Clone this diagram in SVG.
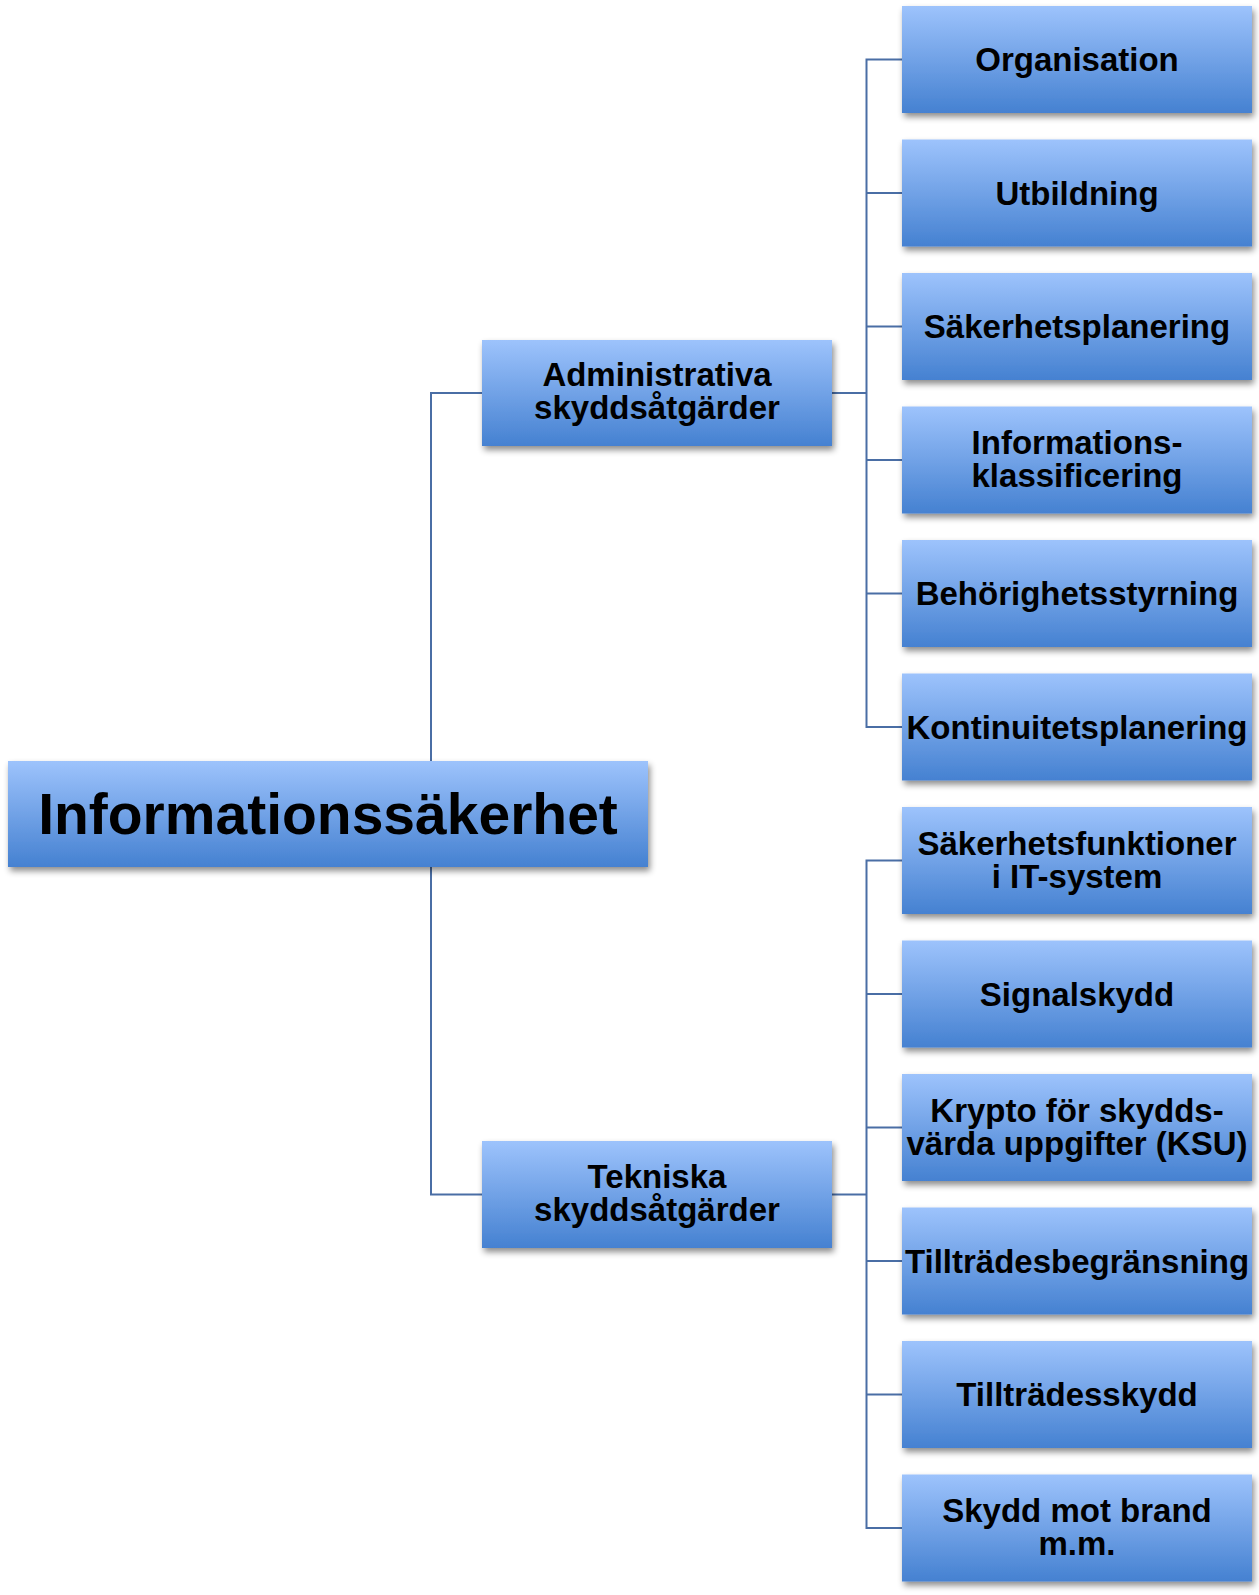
<svg xmlns="http://www.w3.org/2000/svg" width="1259" height="1595" viewBox="0 0 1259 1595">
<defs>
<linearGradient id="g" x1="0" y1="0" x2="0" y2="1">
<stop offset="0" stop-color="#9dc3fc"/>
<stop offset="1" stop-color="#4581d1"/>
</linearGradient>
<filter id="sh" x="-10%" y="-20%" width="120%" height="150%">
<feDropShadow dx="2" dy="4" stdDeviation="3" flood-color="#000" flood-opacity="0.45"/>
</filter>
</defs>
<style>
.box{fill:url(#g);filter:url(#sh)}
.t{font-family:"Liberation Sans",Arial,sans-serif;font-weight:bold;font-size:33px;text-anchor:middle;fill:#000}
.big{font-size:57px}
.c{fill:none;stroke:#4a6ea5;stroke-width:2}
</style>
<rect width="1259" height="1595" fill="#fff"/>
<g id="connectors">
<path class="c" d="M431,761 V393 H482"/>
<path class="c" d="M431,867 V1194.5 H482"/>
<path class="c" d="M832,393 H866.5"/>
<path class="c" d="M902,59.5 H866.5 V727 H902"/>
<path class="c" d="M866.5,193 H902 M866.5,326.5 H902 M866.5,460 H902 M866.5,593.5 H902"/>
<path class="c" d="M832,1194.5 H866.5"/>
<path class="c" d="M902,860.5 H866.5 V1528 H902"/>
<path class="c" d="M866.5,994 H902 M866.5,1127.5 H902 M866.5,1261 H902 M866.5,1394.5 H902"/>
</g>
<g id="root"><rect class="box" x="8" y="761" width="640" height="106"/><text class="t big" x="328" y="834">Informationssäkerhet</text></g>
<g id="admin"><rect class="box" x="482" y="340" width="350" height="106"/><text class="t" x="657" y="386">Administrativa</text><text class="t" x="657" y="419">skyddsåtgärder</text></g>
<g id="tekn"><rect class="box" x="482" y="1141" width="350" height="107"/><text class="t" x="657" y="1188">Tekniska</text><text class="t" x="657" y="1221">skyddsåtgärder</text></g>
<g id="n1"><rect class="box" x="902" y="6" width="350" height="107"/><text class="t" x="1077" y="71">Organisation</text></g>
<g id="n2"><rect class="box" x="902" y="139.5" width="350" height="107"/><text class="t" x="1077" y="204.5">Utbildning</text></g>
<g id="n3"><rect class="box" x="902" y="273" width="350" height="107"/><text class="t" x="1077" y="338">Säkerhetsplanering</text></g>
<g id="n4"><rect class="box" x="902" y="406.5" width="350" height="107"/><text class="t" x="1077" y="454">Informations-</text><text class="t" x="1077" y="487">klassificering</text></g>
<g id="n5"><rect class="box" x="902" y="540" width="350" height="107"/><text class="t" x="1077" y="605">Behörighetsstyrning</text></g>
<g id="n6"><rect class="box" x="902" y="673.5" width="350" height="107"/><text class="t" x="1077" y="738.5">Kontinuitetsplanering</text></g>
<g id="n7"><rect class="box" x="902" y="807" width="350" height="107"/><text class="t" x="1077" y="854.5">Säkerhetsfunktioner</text><text class="t" x="1077" y="887.5">i IT-system</text></g>
<g id="n8"><rect class="box" x="902" y="940.5" width="350" height="107"/><text class="t" x="1077" y="1005.5">Signalskydd</text></g>
<g id="n9"><rect class="box" x="902" y="1074" width="350" height="107"/><text class="t" x="1077" y="1121.5">Krypto för skydds-</text><text class="t" x="1077" y="1154.5">värda uppgifter (KSU)</text></g>
<g id="n10"><rect class="box" x="902" y="1207.5" width="350" height="107"/><text class="t" x="1077" y="1272.5">Tillträdesbegränsning</text></g>
<g id="n11"><rect class="box" x="902" y="1341" width="350" height="107"/><text class="t" x="1077" y="1406">Tillträdesskydd</text></g>
<g id="n12"><rect class="box" x="902" y="1474.5" width="350" height="107"/><text class="t" x="1077" y="1522">Skydd mot brand</text><text class="t" x="1077" y="1555">m.m.</text></g>
</svg>
